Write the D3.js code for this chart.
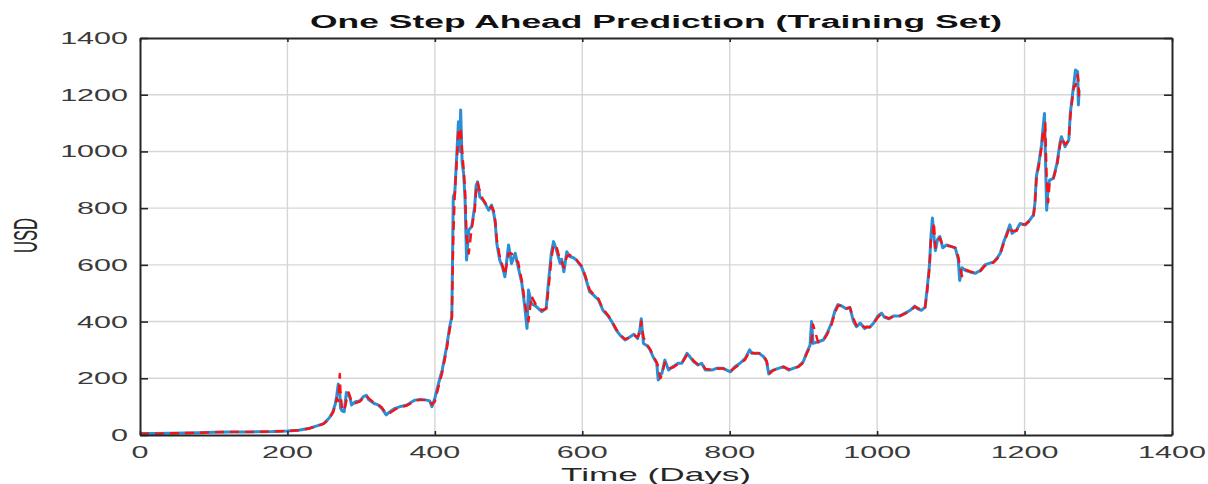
<!DOCTYPE html>
<html>
<head>
<meta charset="utf-8">
<script src="https://cdn.jsdelivr.net/npm/d3@7"></script>
<style>
  html, body { margin: 0; padding: 0; background: #ffffff; }
  svg { display: block; }
  text { font-family: "Liberation Sans", Arial, Helvetica, sans-serif; }
</style>
</head>
<body>
<script>
// ---------------- data ----------------
const days = [0,20,40,60,80,100,120,150,180,200,215,230,240,249,255,258,262,265,267,269,271,272,274,277,280,283,285,287,292,298,303,307,310,317,323,328,334,339,346,353,362,369,373,380,389,393,396,400,405,410,416,420,423,425,427,430,432,434,435,437,439,441,443,446,450,454,456,458,461,465,468,473,477,480,482,484,488,492,495,500,504,509,513,518,522,525,527,531,538,545,551,554,558,561,565,570,572,575,579,583,588,592,599,604,610,615,622,628,635,640,646,652,658,664,670,675,678,680,683,688,692,696,701,703,706,708,712,717,723,730,735,742,746,751,757,762,767,776,782,791,796,801,807,814,821,827,830,834,840,846,850,853,855,859,866,873,880,886,893,900,904,909,911,913,920,927,932,938,943,947,952,958,963,968,972,977,983,986,990,995,1001,1006,1010,1016,1022,1031,1038,1045,1051,1055,1060,1065,1068,1071,1073,1075,1077,1079,1082,1085,1089,1094,1100,1106,1110,1112,1115,1120,1126,1133,1140,1146,1152,1158,1163,1167,1171,1176,1180,1183,1189,1194,1201,1207,1212,1214,1216,1220,1223,1225,1227,1228,1230,1232,1234,1239,1244,1248,1250,1255,1260,1262,1265,1267,1269,1272,1273,1274];

const actual = [5,5,6,7,8,10,11,11,12,14,17,24,32,40,55,65,85,110,140,180,150,95,85,82,150,140,130,106,117,120,135,140,125,112,106,94,71,82,94,100,106,117,123,125,123,120,100,130,182,230,311,380,417,840,853,1000,1105,1000,1146,960,923,829,617,723,735,805,880,893,840,830,817,793,811,780,746,676,617,590,558,670,605,641,593,535,452,376,511,464,452,435,447,535,641,682,652,605,620,576,646,629,625,617,593,558,505,494,476,440,420,400,370,350,335,345,355,340,370,410,323,315,300,276,253,194,210,217,264,229,241,253,253,288,276,259,247,253,229,229,235,235,229,223,241,253,270,300,288,288,288,276,259,215,223,229,235,241,229,235,241,259,288,317,400,323,329,335,358,394,440,460,455,445,450,400,382,395,375,382,380,394,420,430,415,410,420,420,430,440,455,445,440,450,520,600,700,765,700,650,690,700,660,670,665,660,620,545,590,580,575,570,580,600,605,610,625,641,676,711,741,711,723,746,741,758,776,817,911,970,1023,1080,1134,1017,793,876,899,905,958,1029,1052,1017,1040,1134,1199,1240,1287,1281,1164,1217];

const predicted = [5,5,6,7,8,10,11,11,12,14,17,23,31,39,52,63,80,105,130,120,215,150,95,85,120,150,135,115,112,118,130,140,130,115,108,97,76,78,90,98,104,114,121,124,124,121,108,118,170,220,300,370,410,700,845,980,1080,1050,1080,1000,940,860,700,640,730,790,860,890,860,832,820,798,806,790,755,690,630,595,565,640,640,620,610,545,470,420,400,490,455,440,445,510,620,670,665,615,612,590,630,635,623,618,597,562,512,497,480,445,422,402,374,352,338,343,353,345,360,400,345,318,303,280,256,240,200,215,255,235,238,250,253,282,280,262,249,252,233,230,234,235,230,225,237,250,266,296,290,288,288,279,262,225,218,228,234,240,232,234,240,255,284,312,330,390,327,333,354,388,432,456,457,447,449,410,386,392,380,380,381,392,415,428,418,411,418,420,428,438,452,448,441,448,510,590,690,700,750,660,680,695,670,668,665,660,630,600,560,583,577,571,578,596,603,609,622,638,670,705,735,720,720,742,743,755,772,810,900,960,1015,1070,1050,1100,900,820,890,903,950,1020,1048,1025,1038,1120,1190,1230,1230,1270,1250,1180];

const xTicks = [0,200,400,600,800,1000,1200,1400];
const yTicks = [0,200,400,600,800,1000,1200,1400];
const titleText = "One Step Ahead Prediction (Training Set)";
const xLabelText = "Time (Days)";
const yLabelText = "USD";

// ---------------- layout ----------------
const W = 1208, H = 484;
const plot = { left: 140, right: 1172, top: 38, bottom: 435 };
const SX = 1.85;           // horizontal stretch of the reference picture

const svg = d3.select("body").append("svg")
  .attr("width", W).attr("height", H)
  .style("background", "#ffffff");

const x = d3.scaleLinear().domain([0, 1400]).range([plot.left, plot.right]);
const y = d3.scaleLinear().domain([0, 1400]).range([plot.bottom, plot.top]);

// grid
const grid = svg.append("g").attr("stroke", "#d6d6d6").attr("stroke-width", 1.4);
grid.selectAll("line.gx").data(xTicks.filter(t => t > 0 && t < 1400)).join("line")
  .attr("x1", d => x(d)).attr("x2", d => x(d))
  .attr("y1", plot.top).attr("y2", plot.bottom);
grid.selectAll("line.gy").data(yTicks.filter(t => t > 0 && t < 1400)).join("line")
  .attr("x1", plot.left).attr("x2", plot.right)
  .attr("y1", d => y(d)).attr("y2", d => y(d));

// data lines
const pts = (vals) => days.map((d, i) => [d, vals[i]]);
const line = d3.line().x(d => x(d[0])).y(d => y(d[1]));

svg.append("path").datum(pts(actual))
  .attr("fill", "none").attr("stroke", "#2a8fd6")
  .attr("stroke-width", 3).attr("stroke-linejoin", "round")
  .attr("d", line);

svg.append("path").datum(pts(predicted))
  .attr("fill", "none").attr("stroke", "#ff1010")
  .attr("stroke-width", 2.4).attr("stroke-dasharray", "9,6")
  .attr("stroke-linejoin", "round")
  .attr("d", line);

// axes via d3 axis generators (ticks inward, labels handled separately)
const axColor = "#262626";
const bottomAxis = svg.append("g").attr("transform", `translate(0,${plot.bottom})`)
  .call(d3.axisBottom(x).tickValues(xTicks).tickSizeInner(-4).tickSizeOuter(0).tickFormat(""));
const topAxis = svg.append("g").attr("transform", `translate(0,${plot.top})`)
  .call(d3.axisTop(x).tickValues(xTicks).tickSizeInner(-4).tickSizeOuter(0).tickFormat(""));
const leftAxis = svg.append("g").attr("transform", `translate(${plot.left},0)`)
  .call(d3.axisLeft(y).tickValues(yTicks).tickSizeInner(-8).tickSizeOuter(0).tickFormat(""));
const rightAxis = svg.append("g").attr("transform", `translate(${plot.right},0)`)
  .call(d3.axisRight(y).tickValues(yTicks).tickSizeInner(-8).tickSizeOuter(0).tickFormat(""));
[bottomAxis, topAxis, leftAxis, rightAxis].forEach(g => {
  g.select(".domain").attr("stroke", axColor).attr("stroke-width", 2);
  g.selectAll(".tick line").attr("stroke", axColor).attr("stroke-width", 1.6);
});

// stretched text helper
function stext(txt, px, py, sx, opts) {
  const g = svg.append("g").attr("transform", `translate(${px},${py}) scale(${sx},1)` + (opts.rotate ? ` rotate(${opts.rotate})` : ""));
  g.append("text").text(txt)
    .attr("x", 0).attr("y", 0)
    .attr("text-anchor", opts.anchor || "middle")
    .attr("font-size", opts.size)
    .attr("font-weight", opts.weight || "normal")
    .attr("fill", opts.fill || "#333333");
  return g;
}

// tick labels
xTicks.forEach(t => stext(String(t), x(t), 457.5, SX, { size: 16.5, fill: "#3a3a3a" }));
yTicks.forEach(t => stext(String(t), 128, y(t) + 6, SX, { size: 16.5, anchor: "end", fill: "#3a3a3a" }));

// title & axis labels
stext(titleText, (plot.left + plot.right) / 2, 28, 1.97, { size: 18, weight: "bold", fill: "#111111" });
stext(xLabelText, (plot.left + plot.right) / 2, 481, 2.01, { size: 17.5, fill: "#262626" });
stext(yLabelText, 37, 235.5, 2.0, { size: 16.6, rotate: -90, fill: "#262626" });
</script>
</body>
</html>
